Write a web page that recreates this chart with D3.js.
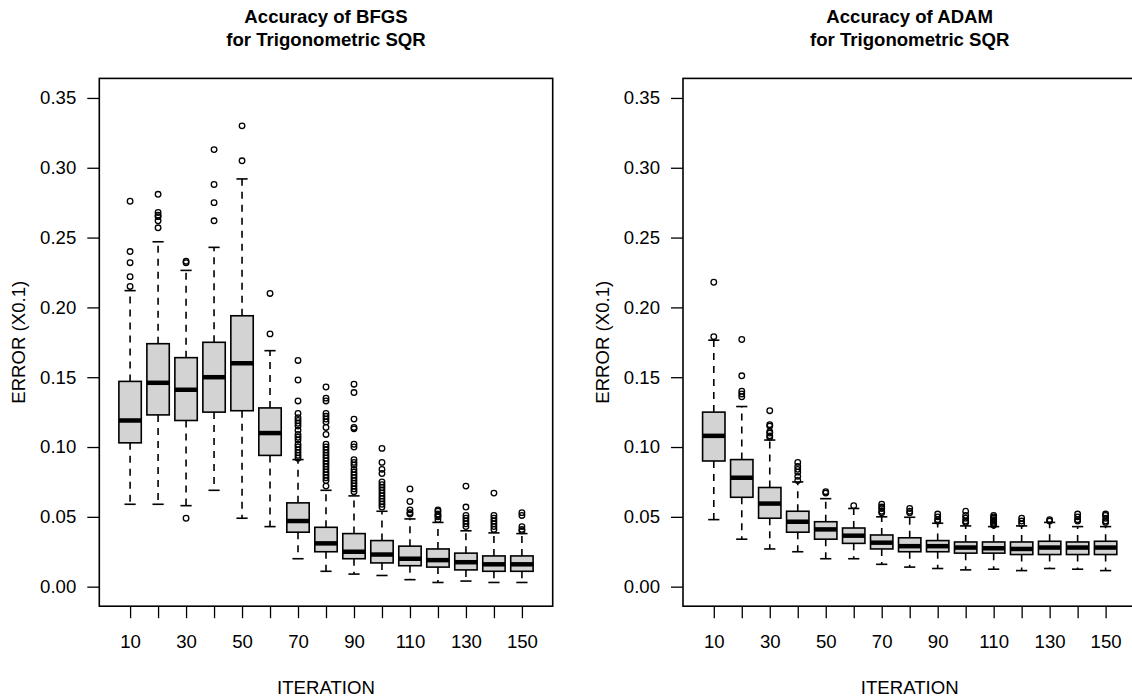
<!DOCTYPE html>
<html><head><meta charset="utf-8">
<script src="https://cdn.jsdelivr.net/npm/d3@7"></script>
<style>
body{margin:0;background:#fff}
text{font-family:"Liberation Sans",Arial,Helvetica,sans-serif;fill:#000}
</style>
</head><body>
<svg id="chart" width="1132" height="700"></svg>
<script>
// ---------- data ----------
const iterations = [10,20,30,40,50,60,70,80,90,100,110,120,130,140,150];
const xTickLabels = ["10","","30","","50","","70","","90","","110","","130","","150"];
const yTicks = [0,0.05,0.10,0.15,0.20,0.25,0.30,0.35];

// BFGS
const bfgsLower  = [0.059,0.059,0.058,0.069,0.049,0.043,0.020,0.011,0.009,0.008,0.005,0.003,0.004,0.003,0.003];
const bfgsQ1     = [0.103,0.123,0.119,0.125,0.126,0.094,0.039,0.025,0.020,0.017,0.015,0.014,0.012,0.011,0.011];
const bfgsMedian = [0.119,0.146,0.141,0.150,0.160,0.110,0.047,0.031,0.025,0.023,0.020,0.019,0.0175,0.016,0.016];
const bfgsQ3     = [0.147,0.174,0.164,0.175,0.194,0.128,0.060,0.0425,0.038,0.033,0.029,0.027,0.024,0.022,0.022];
const bfgsUpper  = [0.212,0.247,0.2265,0.243,0.292,0.169,0.091,0.069,0.065,0.054,0.0485,0.046,0.040,0.0385,0.038];
const bfgsOutliers = [
  [0.276,0.240,0.232,0.222,0.215],
  [0.281,0.268,0.266,0.265,0.262,0.257],
  [0.233,0.232,0.049],
  [0.313,0.288,0.275,0.262],
  [0.330,0.305],
  [0.210,0.181],
  [0.162,0.148,0.133,0.124,0.121,0.119,0.117,0.115,0.112,0.109,0.107,0.105,0.102,0.100,0.098,0.096,0.094,0.092],
  [0.143,0.135,0.133,0.124,0.122,0.120,0.118,0.114,0.109,0.102,0.100,0.098,0.096,0.094,0.092,0.090,0.088,0.086,0.084,0.082,0.080,0.078,0.076,0.072],
  [0.145,0.139,0.120,0.114,0.113,0.102,0.100,0.091,0.089,0.087,0.084,0.082,0.080,0.078,0.076,0.074,0.072,0.070,0.068],
  [0.099,0.089,0.084,0.081,0.075,0.073,0.071,0.069,0.067,0.065,0.063,0.061,0.059,0.057],
  [0.070,0.061,0.055,0.053,0.052],
  [0.055,0.054,0.052,0.051,0.050,0.048],
  [0.072,0.057,0.051,0.049,0.047,0.045,0.043],
  [0.067,0.051,0.049,0.047,0.045,0.043,0.041],
  [0.053,0.051,0.043,0.041,0.040]
];

// ADAM
const adamLower  = [0.048,0.034,0.027,0.025,0.020,0.020,0.016,0.014,0.013,0.012,0.0125,0.0115,0.013,0.0125,0.0115];
const adamQ1     = [0.090,0.064,0.049,0.039,0.034,0.031,0.027,0.025,0.025,0.024,0.024,0.023,0.023,0.023,0.023];
const adamMedian = [0.108,0.078,0.0595,0.0465,0.041,0.0365,0.0315,0.029,0.029,0.028,0.0275,0.027,0.028,0.028,0.028];
const adamQ3     = [0.125,0.091,0.071,0.054,0.0465,0.042,0.037,0.035,0.033,0.032,0.032,0.032,0.0325,0.032,0.0325];
const adamUpper  = [0.1765,0.129,0.105,0.075,0.063,0.056,0.050,0.0497,0.0454,0.0435,0.043,0.0435,0.046,0.043,0.043];
const adamOutliers = [
  [0.218,0.179],
  [0.177,0.151,0.140,0.138,0.136],
  [0.126,0.116,0.115,0.111,0.110,0.108,0.107],
  [0.089,0.086,0.084,0.082,0.079,0.076],
  [0.068,0.067],
  [0.058],
  [0.059,0.057,0.056,0.054,0.053],
  [0.056,0.054,0.053],
  [0.052,0.050,0.048,0.047],
  [0.054,0.051,0.049,0.047,0.046],
  [0.051,0.050,0.049,0.048,0.047,0.046,0.045,0.044],
  [0.049,0.047,0.045],
  [0.048,0.047],
  [0.052,0.050,0.048,0.047],
  [0.052,0.051,0.049,0.047,0.046]
];

// ---------- drawing ----------
const svg = d3.select("#chart");
const plotTop = 78.4, plotBottom = 606.2, panelW = 453.4;
const FS = 18.6;

const y = d3.scaleLinear().domain([-0.014, 0.364]).range([plotBottom, plotTop]);

function panel(left, titleLines, lower, q1, med, q3, upper, outs) {
  const g = svg.append("g");
  const x = d3.scaleLinear().domain([-0.1, 16.1]).range([left, left + panelW]);
  const cx = i => x(i + 1);
  const bw = x(0.8) - x(0);
  const cap = bw / 2;

  const rows = iterations.map((it, i) => ({i, it, lo: lower[i], q1: q1[i], med: med[i], q3: q3[i], hi: upper[i], out: outs[i]}));

  // whiskers (dashed)
  g.selectAll(".wu").data(rows).join("line")
    .attr("x1", d => cx(d.i)).attr("x2", d => cx(d.i))
    .attr("y1", d => y(d.q3)).attr("y2", d => y(d.hi))
    .attr("stroke", "#000").attr("stroke-width", 1.6).attr("stroke-dasharray", "7,6");
  g.selectAll(".wl").data(rows).join("line")
    .attr("x1", d => cx(d.i)).attr("x2", d => cx(d.i))
    .attr("y1", d => y(d.q1)).attr("y2", d => y(d.lo))
    .attr("stroke", "#000").attr("stroke-width", 1.6).attr("stroke-dasharray", "7,6");
  // staples
  g.selectAll(".su").data(rows).join("line")
    .attr("x1", d => cx(d.i) - cap / 2).attr("x2", d => cx(d.i) + cap / 2)
    .attr("y1", d => y(d.hi)).attr("y2", d => y(d.hi))
    .attr("stroke", "#000").attr("stroke-width", 1.6);
  g.selectAll(".sl").data(rows).join("line")
    .attr("x1", d => cx(d.i) - cap / 2).attr("x2", d => cx(d.i) + cap / 2)
    .attr("y1", d => y(d.lo)).attr("y2", d => y(d.lo))
    .attr("stroke", "#000").attr("stroke-width", 1.6);
  // boxes
  g.selectAll(".bx").data(rows).join("rect")
    .attr("x", d => cx(d.i) - bw / 2).attr("width", bw)
    .attr("y", d => y(d.q3)).attr("height", d => y(d.q1) - y(d.q3))
    .attr("fill", "#d3d3d3").attr("stroke", "#000").attr("stroke-width", 1.6);
  // medians
  g.selectAll(".md").data(rows).join("line")
    .attr("x1", d => cx(d.i) - bw / 2).attr("x2", d => cx(d.i) + bw / 2)
    .attr("y1", d => y(d.med)).attr("y2", d => y(d.med))
    .attr("stroke", "#000").attr("stroke-width", 4.5);
  // outliers
  const pts = rows.flatMap(d => d.out.map(v => ({i: d.i, v})));
  g.selectAll(".ol").data(pts).join("circle")
    .attr("cx", d => cx(d.i)).attr("cy", d => y(d.v)).attr("r", 2.8)
    .attr("fill", "none").attr("stroke", "#000").attr("stroke-width", 1.3);

  // frame
  g.append("rect").attr("x", left).attr("y", plotTop).attr("width", panelW).attr("height", plotBottom - plotTop)
    .attr("fill", "none").attr("stroke", "#000").attr("stroke-width", 1.6);

  // y axis
  const ya = g.append("g").attr("transform", `translate(${left},0)`)
    .call(d3.axisLeft(y).tickValues(yTicks).tickFormat(d3.format(".2f")).tickSize(12).tickPadding(11));
  ya.select(".domain").remove();
  ya.selectAll("line").attr("stroke-width", 1.3);
  ya.selectAll("text").attr("font-size", FS).attr("font-family", '"Liberation Sans",Arial,sans-serif');

  // x axis
  const xa = g.append("g").attr("transform", `translate(0,${plotBottom})`)
    .call(d3.axisBottom(x).tickValues(iterations.map((_, i) => i + 1))
      .tickFormat((d, i) => xTickLabels[i]).tickSize(12).tickPadding(16.5));
  xa.select(".domain").remove();
  xa.selectAll("line").attr("stroke-width", 1.3);
  xa.selectAll("text").attr("font-size", FS).attr("font-family", '"Liberation Sans",Arial,sans-serif');

  const mid = left + panelW / 2;
  // titles
  g.append("text").attr("x", mid).attr("y", 22.5).attr("text-anchor", "middle")
    .attr("font-size", FS).attr("font-weight", "bold").text(titleLines[0]);
  g.append("text").attr("x", mid).attr("y", 45.5).attr("text-anchor", "middle")
    .attr("font-size", FS).attr("font-weight", "bold").text(titleLines[1]);
  // axis titles
  g.append("text").attr("x", mid).attr("y", 693.5).attr("text-anchor", "middle")
    .attr("font-size", FS).text("ITERATION");
  g.append("text").attr("transform", `translate(${left - 81},${(plotTop + plotBottom) / 2}) rotate(-90)`)
    .attr("dy", "0.35em").attr("text-anchor", "middle").attr("font-size", FS).text("ERROR (X0.1)");
}

panel(99.3, ["Accuracy of BFGS", "for Trigonometric SQR"], bfgsLower, bfgsQ1, bfgsMedian, bfgsQ3, bfgsUpper, bfgsOutliers);
panel(683, ["Accuracy of ADAM", "for Trigonometric SQR"], adamLower, adamQ1, adamMedian, adamQ3, adamUpper, adamOutliers);
</script>
</body></html>
